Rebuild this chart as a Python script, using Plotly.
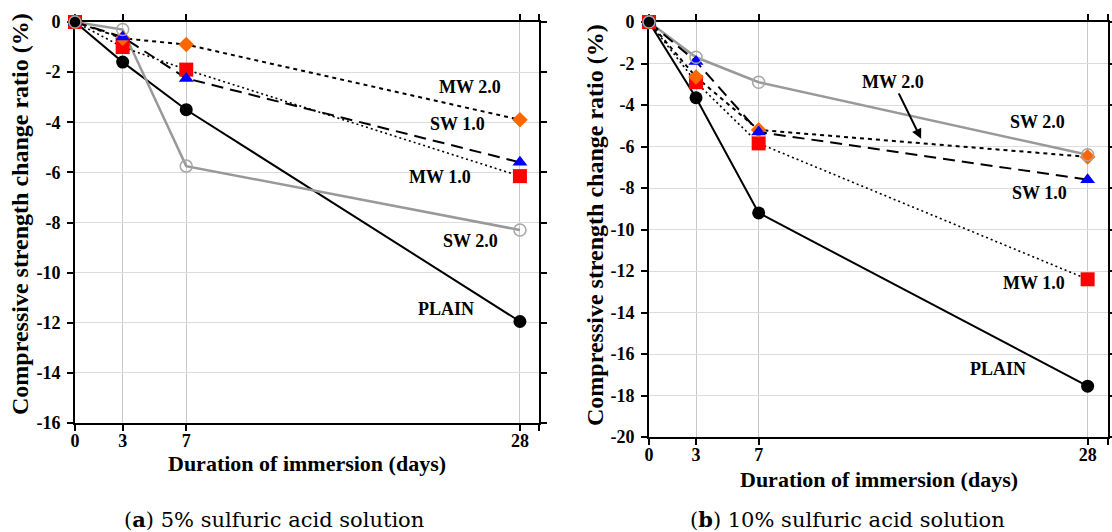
import plotly.graph_objects as go

# ---------------- data ----------------
DAYS = [0, 3, 7, 28]
X_TICK_LABELS = ["0", "3", "7", "28"]

SERIES = ["PLAIN", "SW 2.0", "MW 2.0", "SW 1.0", "MW 1.0"]

# (a) 5% sulfuric acid solution
A_PLAIN = [0, -1.6, -3.5, -11.95]
A_SW20 = [0, -0.3, -5.75, -8.3]
A_MW20 = [0, -0.65, -0.9, -3.9]
A_SW10 = [0, -0.6, -2.25, -5.6]
A_MW10 = [0, -1.0, -1.9, -6.15]

# (b) 10% sulfuric acid solution
B_PLAIN = [0, -3.65, -9.2, -17.55]
B_SW20 = [0, -1.7, -2.9, -6.4]
B_MW20 = [0, -2.65, -5.2, -6.5]
B_SW10 = [0, -1.9, -5.3, -7.6]
B_MW10 = [0, -2.9, -5.85, -12.4]

A_Y_TICKS = [0, -2, -4, -6, -8, -10, -12, -14, -16]
B_Y_TICKS = [0, -2, -4, -6, -8, -10, -12, -14, -16, -18, -20]

# ---------------- styles ----------------
W, H = 1112, 532
FONT = "Liberation Serif"
STYLE = {
    "PLAIN": dict(line=dict(color="black", width=2),
                  marker=dict(symbol="circle", size=13, color="black")),
    "SW 2.0": dict(line=dict(color="#999999", width=2.5),
                   marker=dict(symbol="circle-open", size=12, color="#a6a6a6",
                               line=dict(width=1.5, color="#a6a6a6"))),
    "MW 2.0": dict(line=dict(color="black", width=2, dash="4px,4px"),
                   marker=dict(symbol="diamond", size=12, color="#ff6600")),
    "SW 1.0": dict(line=dict(color="black", width=2, dash="12px,7px"),
                   marker=dict(symbol="triangle-up", size=13, color="#0000ff")),
    "MW 1.0": dict(line=dict(color="black", width=1.6, dash="2px,3px"),
                   marker=dict(symbol="square", size=14, color="#ff0000")),
}
MARKER_ORDER = ["MW 1.0", "MW 2.0", "SW 1.0", "PLAIN", "SW 2.0"]


def px(x):
    return x / W


def py(y):
    return 1 - y / H


fig = go.Figure()

panels = [
    ("x", "y", {"PLAIN": A_PLAIN, "SW 2.0": A_SW20, "MW 2.0": A_MW20,
                "SW 1.0": A_SW10, "MW 1.0": A_MW10}),
    ("x2", "y2", {"PLAIN": B_PLAIN, "SW 2.0": B_SW20, "MW 2.0": B_MW20,
                  "SW 1.0": B_SW10, "MW 1.0": B_MW10}),
]

for xa, ya, data in panels:
    for name in SERIES:
        fig.add_trace(go.Scatter(x=DAYS, y=data[name], mode="lines", name=name,
                                 line=STYLE[name]["line"], xaxis=xa, yaxis=ya,
                                 showlegend=False, cliponaxis=False, hoverinfo="skip"))
    for name in MARKER_ORDER:
        fig.add_trace(go.Scatter(x=DAYS, y=data[name], mode="markers", name=name,
                                 marker=STYLE[name]["marker"], xaxis=xa, yaxis=ya,
                                 showlegend=False, cliponaxis=False))

tickfont = dict(family=FONT, size=18, color="black", weight="bold")


def xaxis(domain, rng, anchor):
    return dict(domain=domain, range=rng, anchor=anchor, automargin=False,
                tickvals=DAYS + [rng[1]], ticktext=X_TICK_LABELS + [""],
                showline=True, linecolor="black", linewidth=2, mirror="ticks",
                ticks="outside", ticklen=6, tickwidth=2, tickcolor="black",
                ticklabelstandoff=-6,
                showgrid=True, gridcolor="#c8c8c8", gridwidth=1,
                zeroline=False, tickfont=tickfont, layer="below traces",
                fixedrange=True)


def yaxis(domain, rng, anchor, ticks):
    return dict(domain=domain, range=rng, anchor=anchor, automargin=False,
                tickvals=ticks, ticktext=[str(t) for t in ticks],
                showline=True, linecolor="black", linewidth=2, mirror="ticks",
                ticks="outside", ticklen=6, tickwidth=2, tickcolor="black",
                ticklabelstandoff=3,
                showgrid=True, gridcolor="#dcdcdc", gridwidth=1,
                zeroline=False, tickfont=tickfont, layer="below traces",
                fixedrange=True)


fig.update_layout(
    width=W, height=H,
    margin=dict(l=0, r=0, t=0, b=0, autoexpand=False),
    paper_bgcolor="white", plot_bgcolor="white",
    showlegend=False,
    xaxis=xaxis([px(75), px(539)], [0, 29.2], "y"),
    yaxis=yaxis([py(423), py(22)], [-16, 0], "x", A_Y_TICKS),
    xaxis2=xaxis([px(649), px(1108)], [0, 29.3], "y2"),
    yaxis2=yaxis([py(437), py(22)], [-20, 0], "x2", B_Y_TICKS),
)

lab = dict(family=FONT, size=18, color="black")
annotations = [
    # panel (a) labels
    dict(x=24.85, y=-2.59, xref="x", yref="y", text="<b>MW 2.0</b>"),
    dict(x=24.1, y=-4.07, xref="x", yref="y", text="<b>SW 1.0</b>"),
    dict(x=22.97, y=-6.19, xref="x", yref="y", text="<b>MW 1.0</b>"),
    dict(x=24.92, y=-8.74, xref="x", yref="y", text="<b>SW 2.0</b>"),
    dict(x=23.34, y=-11.45, xref="x", yref="y", text="<b>PLAIN</b>"),
    # panel (b) labels
    dict(x=24.78, y=-4.81, xref="x2", yref="y2", text="<b>SW 2.0</b>"),
    dict(x=24.9, y=-8.23, xref="x2", yref="y2", text="<b>SW 1.0</b>"),
    dict(x=24.59, y=-12.57, xref="x2", yref="y2", text="<b>MW 1.0</b>"),
    dict(x=22.29, y=-16.71, xref="x2", yref="y2", text="<b>PLAIN</b>"),
]
for a in annotations:
    a.update(showarrow=False, font=lab, xanchor="center", yanchor="middle")
fig.update_layout(annotations=annotations)

fig.add_annotation(x=17.37, y=-5.63, xref="x2", yref="y2", text="<b>MW 2.0</b>",
                   showarrow=True, ax=-28, ay=-57, arrowhead=2, arrowsize=1,
                   arrowwidth=2, arrowcolor="black", font=lab)

ytitle_font = dict(family=FONT, size=24, color="black")
xtitle_font = dict(family=FONT, size=22, color="black")
YTITLE = "<b>Compressive strength change ratio (%)</b>"
XTITLE = "<b>Duration of immersion (days)</b>"
centered = dict(xref="paper", yref="paper", showarrow=False,
                xanchor="center", yanchor="middle")
fig.add_annotation(x=px(20), y=py(214), text=YTITLE, textangle=-90,
                   font=ytitle_font, **centered)
fig.add_annotation(x=px(595), y=py(225), text=YTITLE, textangle=-90,
                   font=ytitle_font, **centered)
fig.add_annotation(x=px(307), y=py(463), text=XTITLE, font=xtitle_font, **centered)
fig.add_annotation(x=px(879), y=py(479), text=XTITLE, font=xtitle_font, **centered)

cap_font = dict(family="DejaVu Serif", size=21, color="black")
fig.add_annotation(x=px(274), y=py(519), text="(<b>a</b>) 5% sulfuric acid solution",
                   font=cap_font, **centered)
fig.add_annotation(x=px(847), y=py(519), text="(<b>b</b>) 10% sulfuric acid solution",
                   font=cap_font, **centered)

fig.write_html("out.html",
               config={"displayModeBar": False},
               post_script="document.body.style.margin='0px';document.body.style.padding='0px';")
